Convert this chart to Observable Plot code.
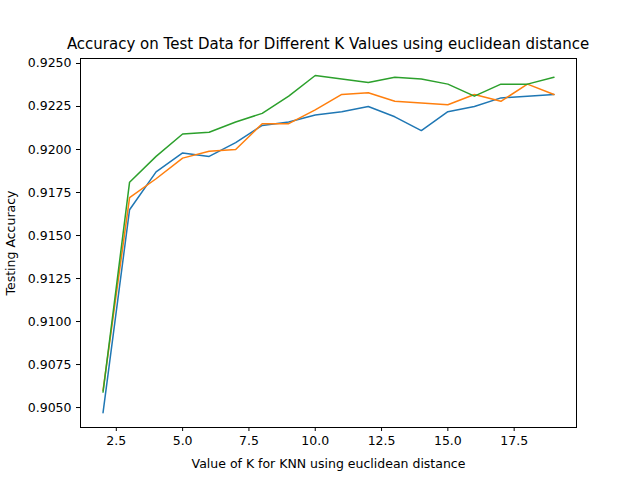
<!DOCTYPE html>
<html><head><meta charset="utf-8">
<script src="https://cdn.jsdelivr.net/npm/d3@7"></script>
<script src="https://cdn.jsdelivr.net/npm/@observablehq/plot@0.6"></script>
<style>
body{margin:0;background:#fff;font-family:"DejaVu Sans",sans-serif}
#title{padding-top:36px;height:16px;line-height:16px;font-size:15px;text-align:center;width:640px;text-indent:16px;white-space:nowrap}
</style></head><body>
<div id="title">Accuracy on Test Data for Different K Values using euclidean distance</div>
<div id="grafico"></div>
<script>
const ks = [2,3,4,5,6,7,8,9,10,11,12,13,14,15,16,17,18,19];
const blue = [.9047,.9165,.9187,.9198,.9196,.9204,.9214,.9216,.9220,.9222,.9225,.9219,.9211,.9222,.9225,.9230,.9231,.9232];
const orange = [.9060,.9172,.9183,.9195,.9199,.9200,.9215,.9215,.9223,.9232,.9233,.9228,.9227,.9226,.9232,.9228,.9238,.9232];
const green = [.9059,.9181,.9196,.9209,.9210,.9216,.9221,.9231,.9243,.9241,.9239,.9242,.9241,.9238,.9231,.9238,.9238,.9242];
const series = [["blue", blue, "#1f77b4"], ["orange", orange, "#ff7f0e"], ["green", green, "#2ca02c"]];

const marks = series.map(([name, vals, col]) =>
  Plot.line(ks.map((k, i) => ({k, v: vals[i]})), {x: "k", y: "v", stroke: col, strokeWidth: 1.5})
);

const chart = Plot.plot({
  width: 640, height: 428,
  marginTop: 6, marginBottom: 53, marginLeft: 80, marginRight: 64,
  style: {fontFamily: "DejaVu Sans, sans-serif", fontSize: "12.5px", color: "#000"},
  x: {domain: [1.15, 19.85], ticks: [2.5,5,7.5,10,12.5,15,17.5], tickFormat: ".1f", label: "Value of K for KNN using euclidean distance", labelArrow: "none", labelAnchor: "center", labelOffset: 40, tickSize: 4},
  y: {domain: [0.90384, 0.92529], ticks: d3.range(0, 9).map(i => 0.905 + i*0.0025), tickFormat: ".4f", label: "Testing Accuracy", labelArrow: "none", labelAnchor: "center", labelOffset: 74, tickSize: 4},
  marks: [Plot.frame({stroke: "#000"}), ...marks]
});
d3.select('#grafico').append(() => chart);
</script>
</body></html>
